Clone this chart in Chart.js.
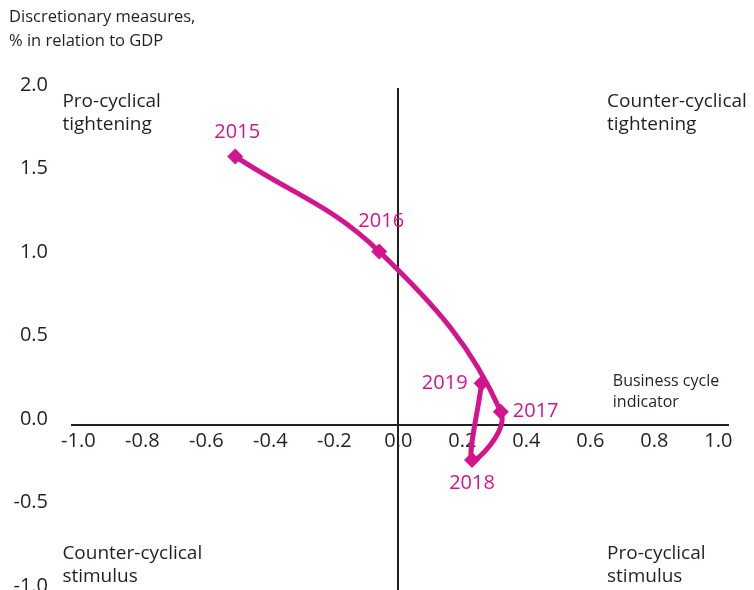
<!DOCTYPE html>
<html>
<head>
<meta charset="utf-8">
<title>Fiscal stance and business cycle</title>
<script src="https://cdn.jsdelivr.net/npm/chart.js"></script>
<style>
  html, body { margin: 0; padding: 0; background: #fff; overflow: hidden; }
  #wrap { width: 754px; height: 604px; }
</style>
</head>
<body>
<div id="wrap"><canvas id="cycleChart"></canvas></div>
<script>
// yearly observations: business cycle indicator (x) vs discretionary measures (y)
const years = ['2015', '2016', '2017', '2018', '2019'];
const cycleIndicator = [-0.51, -0.06, 0.32, 0.23, 0.26];
const discretionary = [1.61, 1.04, 0.08, -0.21, 0.25];

const xTickValues = [-1.0, -0.8, -0.6, -0.4, -0.2, 0.0, 0.2, 0.4, 0.6, 0.8, 1.0];
const yTickValues = [-1.0, -0.5, 0.0, 0.5, 1.0, 1.5, 2.0];

const ink = '#231f20';
const magenta = '#d2148d';
const fontFamily = '"Open Sans", sans-serif';

// year label placement relative to its marker (px)
const yearLabelOffset = [[2, -24], [2, -30], [12, 0], [0, 23], [-14, 0]];
const yearLabelAlign = ['center', 'center', 'left', 'center', 'right'];

// quadrant captions, anchored in axis units
const quadrantNotes = [
  { lines: ['Pro-cyclical', 'tightening'], x: -1.05, y: 1.94 },
  { lines: ['Counter-cyclical', 'tightening'], x: 0.652, y: 1.94 },
  { lines: ['Counter-cyclical', 'stimulus'], x: -1.05, y: -0.77 },
  { lines: ['Pro-cyclical', 'stimulus'], x: 0.652, y: -0.77 }
];
const axisNote = { lines: ['Business cycle', 'indicator'], x: 0.67, y: 0.262 };

Chart.defaults.font.family = fontFamily;

const textPlugin = {
  id: 'chartText',
  afterDatasetsDraw(chart) {
    const ctx = chart.ctx;
    const xs = chart.scales.x, ys = chart.scales.y;
    ctx.save();
    ctx.textBaseline = 'middle';

    ctx.fillStyle = ink;
    ctx.textAlign = 'left';
    ctx.font = '19px ' + fontFamily;
    quadrantNotes.forEach(n => {
      const px = xs.getPixelForValue(n.x), py = ys.getPixelForValue(n.y);
      n.lines.forEach((t, i) => ctx.fillText(t, px, py + i * 23));
    });

    ctx.font = '16px ' + fontFamily;
    const ax = xs.getPixelForValue(axisNote.x), ay = ys.getPixelForValue(axisNote.y);
    axisNote.lines.forEach((t, i) => ctx.fillText(t, ax, ay + i * 21));

    // year labels next to each marker
    ctx.fillStyle = magenta;
    ctx.font = '20px ' + fontFamily;
    chart.getDatasetMeta(0).data.forEach((pt, i) => {
      ctx.textAlign = yearLabelAlign[i];
      ctx.fillText(years[i], pt.x + yearLabelOffset[i][0], pt.y + yearLabelOffset[i][1]);
    });
    ctx.restore();
  }
};

new Chart(document.getElementById('cycleChart'), {
  type: 'scatter',
  data: {
    datasets: [{
      data: years.map((y, i) => ({ x: cycleIndicator[i], y: discretionary[i] })),
      showLine: true,
      borderColor: magenta,
      borderWidth: 5,
      tension: 0.4,
      pointStyle: 'rectRot',
      pointRadius: 8,
      pointBackgroundColor: magenta,
      pointBorderColor: magenta,
      pointBorderWidth: 0
    }]
  },
  options: {
    responsive: true,
    maintainAspectRatio: false,
    animation: false,
    layout: { padding: { left: 9, right: 26, top: 0, bottom: 0 } },
    plugins: {
      legend: { display: false },
      tooltip: { enabled: false },
      title: {
        display: true,
        text: ['Discretionary measures,', '% in relation to GDP'],
        align: 'start',
        color: ink,
        font: { size: 16.5, weight: 'normal', lineHeight: 24 / 16.5 },
        padding: { top: 5, bottom: 35 }
      }
    },
    scales: {
      x: {
        type: 'linear',
        min: -1.02,
        max: 1.03,
        position: { y: 0 },
        afterBuildTicks: s => { s.ticks = xTickValues.map(v => ({ value: v })); },
        afterFit: s => { s.paddingLeft = 0; s.paddingRight = 0; },
        ticks: { callback: v => v.toFixed(1), color: ink, font: { size: 20 }, padding: 4 },
        grid: {
          drawTicks: false,
          lineWidth: 2,
          color: c => (c.tick && c.tick.value === 0 ? ink : 'rgba(0,0,0,0)')
        },
        border: { display: true, color: ink, width: 2 }
      },
      y: {
        type: 'linear',
        min: -1.025,
        max: 2.02,
        position: 'left',
        afterBuildTicks: s => { s.ticks = yTickValues.map(v => ({ value: v })); },
        afterFit: s => { s.width = 63; s.paddingTop = 0; s.paddingBottom = 0; },
        ticks: { callback: v => v.toFixed(1), color: ink, font: { size: 20 }, padding: 24, labelOffset: -6 },
        grid: { display: false, drawTicks: false },
        border: { display: false }
      }
    }
  },
  plugins: [textPlugin]
});
</script>
</body>
</html>
